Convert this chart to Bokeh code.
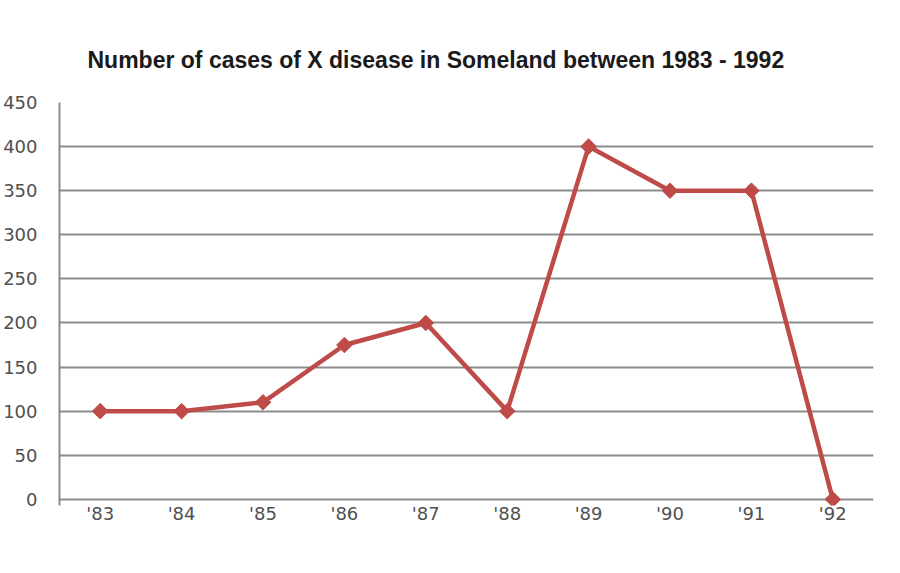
from bokeh.plotting import figure
from bokeh.models import Range1d, FixedTicker
from bokeh.embed import file_html
from bokeh.resources import INLINE
import numpy as np

# Data
years = ["'83", "'84", "'85", "'86", "'87", "'88", "'89", "'90", "'91", "'92"]
cases = [100, 100, 110, 175, 200, 100, 400, 350, 350, 0]
y_ticks = [0, 50, 100, 150, 200, 250, 300, 350, 400, 450]
title_text = "Number of cases of X disease in Someland between 1983  - 1992"

LINE_COLOR = "#BE4B48"
GRID_COLOR = "#8c8c8c"
LABEL_COLOR = "#505050"

p = figure(
    x_range=years,
    y_range=Range1d(-7, 450),
    width=877,
    height=565,
    output_backend="svg",
    toolbar_location=None,
    min_border_left=57,
    min_border_right=4,
    min_border_top=102,
    min_border_bottom=60,
)
p.background_fill_color = "white"
p.border_fill_color = "white"
p.outline_line_color = None

# Title
p.title.text = title_text
p.title.text_font = "Liberation Sans"
p.title.text_font_style = "bold"
p.title.text_font_size = "23px"
p.title.text_color = "#1a1a1a"
p.title.align = "left"
p.title.offset = 28
p.title.standoff = 60

# Y axis
p.yaxis.ticker = FixedTicker(ticks=y_ticks)
p.yaxis.major_label_text_font = "DejaVu Sans"
p.yaxis.major_label_text_font_size = "18px"
p.yaxis.major_label_text_color = LABEL_COLOR
p.yaxis.major_label_standoff = 22
p.yaxis.major_tick_out = 0
p.yaxis.major_tick_in = 0
p.yaxis.minor_tick_out = 0
p.yaxis.minor_tick_in = 0
p.yaxis.axis_line_color = GRID_COLOR
p.yaxis.axis_line_width = 2

# X axis
p.xaxis.axis_line_color = None
p.xaxis.major_tick_out = 0
p.xaxis.major_tick_in = 0
p.xaxis.major_label_text_font = "DejaVu Sans"
p.xaxis.major_label_text_font_size = "18px"
p.xaxis.major_label_text_color = LABEL_COLOR
p.xaxis.major_label_standoff = -3

# Grid
p.xgrid.grid_line_color = None
p.ygrid.ticker = FixedTicker(ticks=y_ticks)
p.ygrid.grid_line_color = GRID_COLOR
p.ygrid.grid_line_width = 1.8

# Series
p.line(years, cases, line_color=LINE_COLOR, line_width=4.5)
p.scatter(years, cases, marker="square", angle=np.pi / 4, size=11,
          fill_color=LINE_COLOR, line_color=LINE_COLOR)

open("out.html", "w").write(file_html(p, INLINE))
